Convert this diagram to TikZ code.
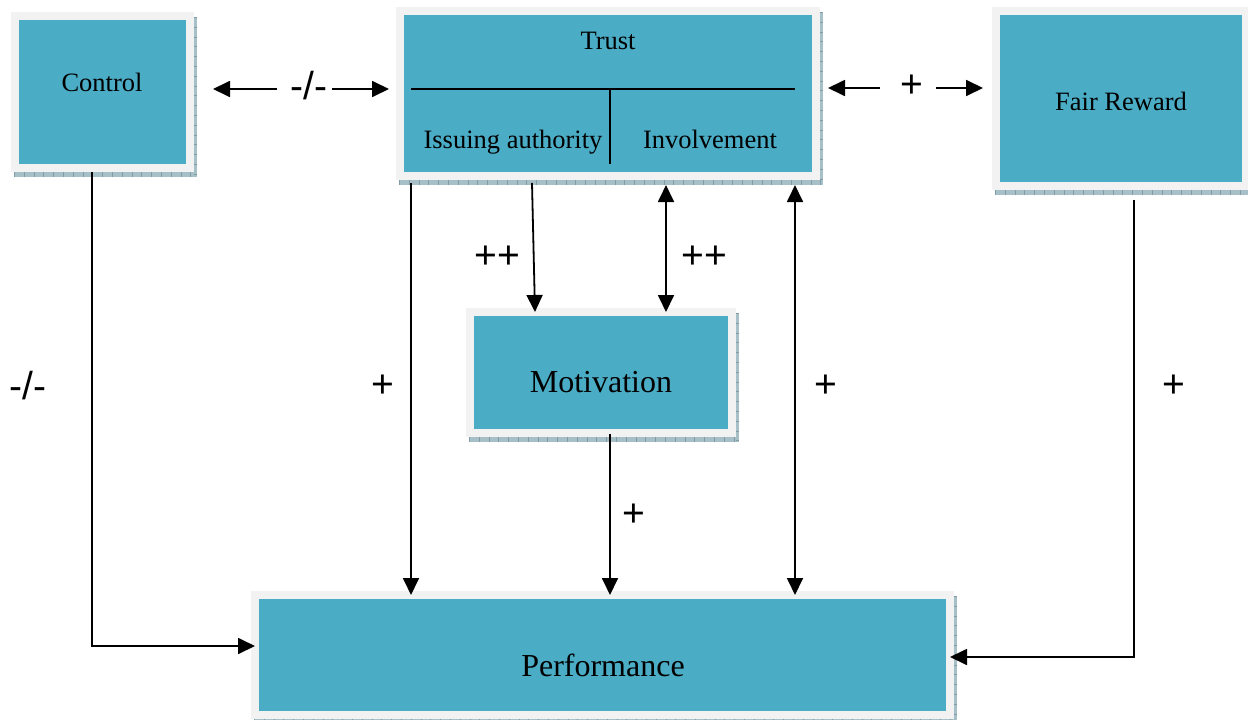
\documentclass[tikz,border=0pt]{standalone}
\usepackage{fontspec}
\setmainfont{Liberation Serif}
\newfontfamily\labfont{Liberation Sans}
\usetikzlibrary{arrows.meta,backgrounds}

\definecolor{boxteal}{HTML}{4BACC6}
\definecolor{boxframe}{HTML}{F2F2F2}
\definecolor{boxshade}{HTML}{A7C0C8}
\definecolor{shadetick}{HTML}{7F9CA7}

\tikzset{
  box/.style={rectangle, fill=boxteal, draw=boxframe, line width=8pt,
              outer sep=0pt, inner sep=0pt},
  boxtext/.style={anchor=base, inner sep=0pt, font=\fontsize{26.5}{30}\selectfont},
  bigtext/.style={anchor=base, inner sep=0pt, font=\fontsize{32}{36}\selectfont},
  sign/.style={inner sep=0pt, font=\labfont\fontsize{39}{44}\selectfont},
  arr/.style={line width=1.8pt, -{Triangle[length=17pt,width=16pt]}},
  biarr/.style={line width=1.8pt,
                {Triangle[length=17pt,width=16pt]}-{Triangle[length=17pt,width=16pt]}},
  divider/.style={line width=2pt},
}

% shadow strip along the right and bottom edge of a framed box
\newcommand\shadebox[1]{%
  \fill[boxshade] ([shift={(-1pt,-1pt)}]#1.north west) rectangle ([shift={(7pt,-9pt)}]#1.south east);
  \draw[shadetick, line width=3pt, dash pattern=on 0.8pt off 9pt]
    ([shift={(5.5pt,-1pt)}]#1.north east) -- ([shift={(5.5pt,-9pt)}]#1.south east);
  \draw[shadetick, line width=5pt, dash pattern=on 0.8pt off 9pt]
    ([shift={(-1pt,-6.5pt)}]#1.south west) -- ([shift={(7pt,-6.5pt)}]#1.south east);
}

\begin{document}
\begin{tikzpicture}[x=1pt, y=-1pt]
  \useasboundingbox (0,0) rectangle (1248,720);

  % boxes
  \node[box, minimum width=175pt, minimum height=152pt] (ctl)   at (102.5,92)  {};
  \node[box, minimum width=416pt, minimum height=165pt] (trust) at (608,93.5)  {};
  \node[box, minimum width=250pt, minimum height=175pt] (fair)  at (1121,98.5) {};
  \node[box, minimum width=262pt, minimum height=121pt] (mot)   at (601,372.5) {};
  \node[box, minimum width=695pt, minimum height=120pt] (perf)  at (602.5,655) {};

  \begin{scope}[on background layer]
    \fill[white] (0,0) rectangle (1248,720);
    \shadebox{ctl}
    \shadebox{trust}
    \shadebox{fair}
    \shadebox{mot}
    \shadebox{perf}
  \end{scope}

  % texts in the boxes
  \node[boxtext] (ctltxt)   at (102,91)   {Control};
  \node[boxtext] (trusttxt) at (608,49)   {Trust};
  \node[boxtext] (isstxt)   at (513,148)  {Issuing authority};
  \node[boxtext] (invtxt)   at (710,148)  {Involvement};
  \node[boxtext] (fairtxt)  at (1121,110) {Fair Reward};
  \node[bigtext] (mottxt)   at (601,392)  {Motivation};
  \node[bigtext] (perftxt)  at (603,676)  {Performance};

  % partition inside the trust box
  \draw[divider] (411,89) -- (795,89);
  \draw[divider] (610,89) -- (610,164);

  % control <-> trust
  \node[sign] (lct) at (309,86) {-/-};
  \coordinate (ct-a) at (277,89);  \coordinate (ct-l) at (213,89);
  \coordinate (ct-b) at (332,89);  \coordinate (ct-r) at (389,89);
  \draw[arr] (ct-a) -- (ct-l);
  \draw[arr] (ct-b) -- (ct-r);

  % trust <-> fair reward
  \node[sign] (ltf) at (912,86) {+};
  \coordinate (tf-a) at (880,88);  \coordinate (tf-l) at (828,88);
  \coordinate (tf-b) at (936,88);  \coordinate (tf-r) at (983,88);
  \draw[arr] (tf-a) -- (tf-l);
  \draw[arr] (tf-b) -- (tf-r);

  % links into performance and motivation
  \draw[arr] ([xshift=-10.5pt,yshift=-4pt]ctl.south) |- ([yshift=9pt]perf.west);
  \draw[arr] ([xshift=-197pt,yshift=-7pt]trust.south) -- ([xshift=-191.5pt]perf.north);
  \draw[arr] ([xshift=-76pt,yshift=-7pt]trust.south) -- ([xshift=-66pt]mot.north);
  \draw[biarr] ([xshift=58pt,yshift=-9pt]trust.south) -- ([xshift=65pt]mot.north);
  \draw[biarr] ([xshift=187pt,yshift=-9pt]trust.south) -- ([xshift=192.5pt]perf.north);
  \draw[arr] ([xshift=9pt,yshift=-1pt]mot.south) -- ([xshift=7.5pt]perf.north);
  \draw[arr] ([xshift=13pt,yshift=-14pt]fair.south) |- ([yshift=-2pt]perf.east);

  % signs on the links
  \node[sign] (lcp) at (28,386)   {-/-};
  \node[sign] (ltp) at (383,386)  {+};
  \node[sign] (ltm) at (497,257)  {++};
  \node[sign] (lim) at (704,257)  {++};
  \node[sign] (lbp) at (826,386)  {+};
  \node[sign] (lmp) at (634,515)  {+};
  \node[sign] (lfp) at (1174,386) {+};
\end{tikzpicture}
\end{document}
